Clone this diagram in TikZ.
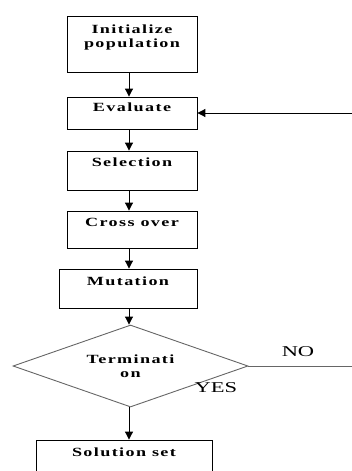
\documentclass[tikz,border=0pt]{standalone}
\usepackage{fontspec}
\setmainfont{Liberation Serif}
\newfontfamily\bxfont[FakeStretch=1.45,LetterSpace=11]{Liberation Serif}
\newfontfamily\ynfont[FakeStretch=1.5]{Liberation Serif}
\usetikzlibrary{arrows.meta,shapes.geometric}
\begin{document}
\begin{tikzpicture}[x=1pt,y=-1pt,
  box/.style={draw=black,line width=0.85pt,inner sep=0pt,minimum width=130pt},
  txt/.style={font=\bxfont\bfseries\fontsize{12.5}{14.5}\selectfont,inner sep=0pt,anchor=north,align=center},
  yn/.style={font=\ynfont\fontsize{15}{18}\selectfont,inner sep=0pt},
  arr/.style={line width=0.9pt,-{Triangle[length=8pt,width=8pt]}},
  gline/.style={draw=black!60,line width=0.9pt}]
\useasboundingbox (0,0) rectangle (352,471);
\clip (0,0) rectangle (352,471);
\coordinate (axis) at (129,0);
\node[box,minimum height=55.3pt] (init) at (132,44.3) {};
\node[box,minimum height=32pt] (eval) at (132,113) {};
\node[box,minimum height=39pt] (sel) at (132,170.5) {};
\node[box,minimum height=37pt] (cross) at (132,229.5) {};
\node[box,minimum width=138pt,minimum height=39pt] (mut) at (128,288.5) {};
\node[gline,diamond,aspect=2.866,inner sep=0pt,minimum width=235pt,minimum height=82pt] (dec) at (130.5,366) {};
\node[txt,anchor=center] (tdec) at (dec.center) {Terminati\\on};
\node[box,minimum width=176pt,minimum height=60pt] (sol) at (124,470) {};
\node[txt] (tinit) at ([yshift=-8pt]init.north) {Initialize\\population};
\node[txt] (teval) at ([yshift=-6pt]eval.north) {Evaluate};
\node[txt] (tsel) at ([yshift=-7pt]sel.north) {Selection};
\node[txt] (tcross) at ([yshift=-7pt]cross.north) {Cross over};
\node[txt] (tmut) at ([yshift=-8pt]mut.north) {Mutation};
\node[txt] (tsol) at ([yshift=-8pt]sol.north) {Solution set};
\node[yn] (no) at (298,352) {NO};
\node[yn] (yes) at (216,388) {YES};
\coordinate (redge1) at (352,113);
\coordinate (redge2) at (352,366);
\draw[arr] (init.south -| axis) -- (eval.north -| axis);
\draw[arr] (eval.south -| axis) -- (sel.north -| axis);
\draw[arr] (sel.south -| axis) -- (cross.north -| axis);
\draw[arr] (cross.south -| axis) -- (mut.north -| axis);
\draw[arr] (mut.south -| axis) -- (dec.north -| axis);
\draw[arr] (dec.south -| axis) -- (sol.north -| axis);
\draw[arr] (redge1) -- (eval.east);
\draw[gline] (dec.east) -- (redge2);
\end{tikzpicture}
\end{document}
